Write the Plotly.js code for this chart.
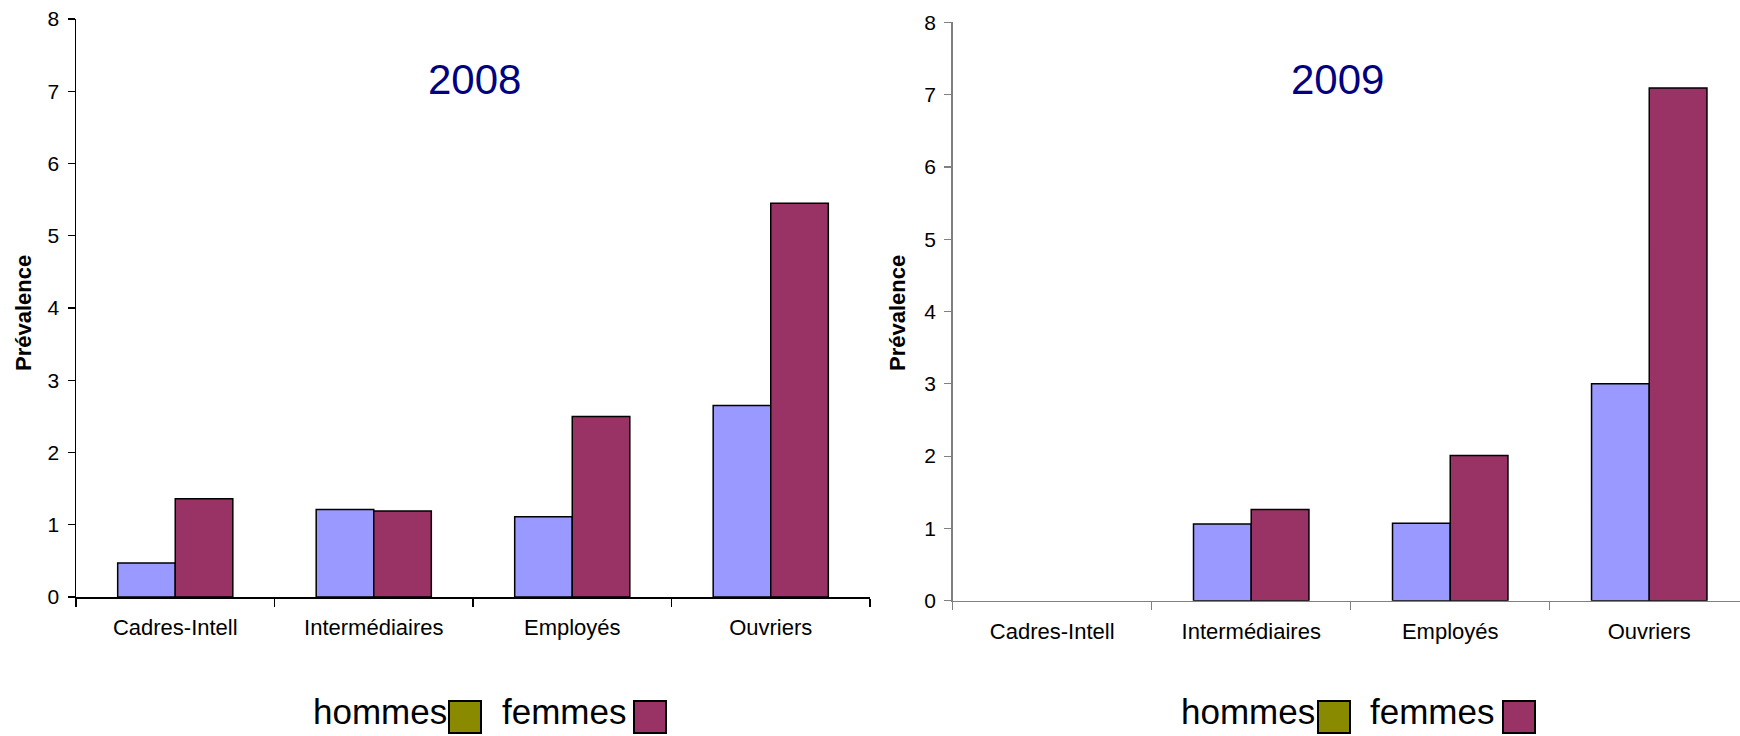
<!DOCTYPE html>
<html><head><meta charset="utf-8">
<script src="https://cdn.plot.ly/plotly-3.0.1.min.js"></script>
<style>html,body{margin:0;padding:0;background:#fff;overflow:hidden}</style>
</head><body><div id="chart" style="width:1740px;height:736px"></div>
<script>
// ---- data ----
const categories = ["Cadres-Intell", "Intermédiaires", "Employés", "Ouvriers"];
const hommes2008 = [0.47, 1.21, 1.11, 2.65];
const femmes2008 = [1.36, 1.19, 2.50, 5.45];
const hommes2009 = [null, 1.06, 1.07, 3.00];
const femmes2009 = [null, 1.26, 2.01, 7.09];
const yTickVals = [0, 1, 2, 3, 4, 5, 6, 7, 8];
const seriesNames = ["hommes", "femmes"];
const panelTitles = ["2008", "2009"];
const yTitle = "Prévalence";

// ---- styling / geometry ----
const W = 1740, H = 736;
const px = x => x / W;
const py = y => 1 - y / H;
const FONT = "Liberation Sans, Arial, sans-serif";
const colHommes = "#9999FF", colFemmes = "#993366";

function bar(name, y, color, xa, ya) {
  return {
    type: "bar", name: name, x: categories, y: y, xaxis: xa, yaxis: ya,
    marker: {color: color, line: {color: "#000000", width: 1.5}},
    showlegend: false, hoverinfo: "x+y+name"
  };
}

const data = [
  bar(seriesNames[0], hommes2008, colHommes, "x", "y"),
  bar(seriesNames[1], femmes2008, colFemmes, "x", "y"),
  bar(seriesNames[0], hommes2009, colHommes, "x2", "y2"),
  bar(seriesNames[1], femmes2009, colFemmes, "x2", "y2")
];

function xAxis(domain, range, color, anchor) {
  return {
    domain: domain, range: range, type: "category", anchor: anchor,
    showline: true, linecolor: color, linewidth: 1.5,
    ticks: "outside", tickson: "boundaries", ticklen: 8, tickcolor: color, tickwidth: 1.2,
    tickfont: {family: FONT, size: 22, color: "#000"},
    ticklabelstandoff: 10,
    showgrid: false, zeroline: false, fixedrange: true
  };
}
function yAxis(domain, color, anchor) {
  return {
    domain: domain, range: [0, 8], anchor: anchor,
    tickmode: "array", tickvals: yTickVals, ticktext: yTickVals.map(String),
    showline: true, linecolor: color, linewidth: 1.5,
    ticks: "outside", ticklen: 7, tickcolor: color, tickwidth: 1.2,
    tickfont: {family: FONT, size: 21, color: "#000"},
    ticklabelstandoff: 4,
    showgrid: false, zeroline: false, fixedrange: true
  };
}

const titleFont = {family: "Liberation Sans Narrow, Arial Narrow, " + FONT, size: 42, color: "#000080"};
const annotations = [
  {text: panelTitles[0], x: px(474), y: py(79), xref: "paper", yref: "paper",
   xanchor: "center", yanchor: "middle", showarrow: false, font: titleFont},
  {text: panelTitles[1], x: px(1337), y: py(79), xref: "paper", yref: "paper",
   xanchor: "center", yanchor: "middle", showarrow: false, font: titleFont},
  {text: yTitle, x: px(23), y: py(313), xref: "paper", yref: "paper", textangle: -90,
   xanchor: "center", yanchor: "middle", showarrow: false,
   font: {family: FONT, size: 22, color: "#000", weight: "bold"}},
  {text: yTitle, x: px(897), y: py(313), xref: "paper", yref: "paper", textangle: -90,
   xanchor: "center", yanchor: "middle", showarrow: false,
   font: {family: FONT, size: 22, color: "#000", weight: "bold"}}
];

const shapes = [];
// legends: text followed by swatch
const legends = [
  {h: 311, hs: 449, f: 500, fs: 634},
  {h: 1179, hs: 1318, f: 1368, fs: 1503}
];
legends.forEach(L => {
  annotations.push({text: seriesNames[0], x: px(L.h), y: py(711), xref: "paper", yref: "paper",
    xanchor: "left", yanchor: "middle", showarrow: false,
    font: {family: FONT, size: 35, color: "#000"}});
  annotations.push({text: seriesNames[1], x: px(L.f), y: py(711), xref: "paper", yref: "paper",
    xanchor: "left", yanchor: "middle", showarrow: false,
    font: {family: FONT, size: 35, color: "#000"}});
  shapes.push({type: "rect", xref: "paper", yref: "paper",
    x0: px(L.hs), x1: px(L.hs + 32), y0: py(701), y1: py(733),
    fillcolor: "#8a8a00", line: {color: "#000", width: 2}});
  shapes.push({type: "rect", xref: "paper", yref: "paper",
    x0: px(L.fs), x1: px(L.fs + 32), y0: py(701), y1: py(733),
    fillcolor: colFemmes, line: {color: "#000", width: 2}});
});

const layout = {
  width: W, height: H,
  margin: {l: 0, r: 0, t: 0, b: 0, pad: 0},
  paper_bgcolor: "#fff", plot_bgcolor: "rgba(0,0,0,0)",
  barmode: "group", bargap: 0.42, bargroupgap: 0,
  showlegend: false,
  font: {family: FONT, color: "#000"},
  xaxis: xAxis([px(76), px(870)], [-0.5, 3.5], "#000000", "y"),
  yaxis: yAxis([py(597), py(19)], "#000000", "x"),
  xaxis2: xAxis([px(952.7), 1], [-0.5, 3.456], "#808080", "y2"),
  yaxis2: yAxis([py(600.7), py(22.3)], "#808080", "x2"),
  annotations: annotations,
  shapes: shapes
};

Plotly.newPlot("chart", data, layout, {staticPlot: true, displayModeBar: false});
</script>
</body></html>
